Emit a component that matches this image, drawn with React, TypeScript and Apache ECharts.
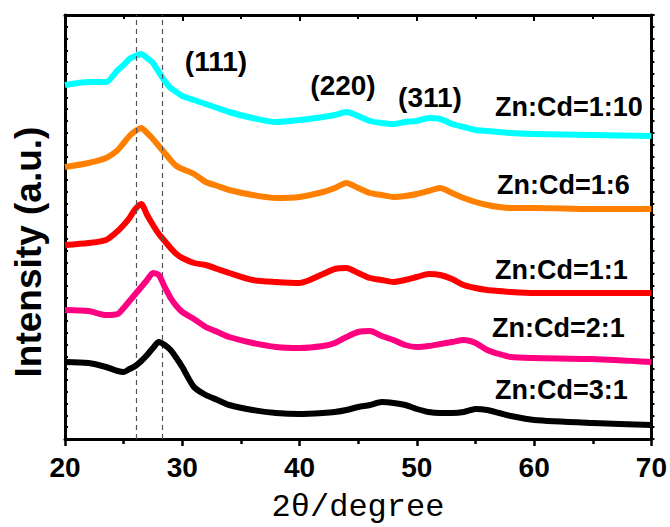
import React, { useEffect, useRef } from "react";
import * as echarts from "echarts";

// 2θ positions (degree) at which the traces were read
const angles = [20, 22, 23.5, 24.5, 25, 25.5, 26, 26.5, 27, 27.5, 28, 28.5, 29, 29.5, 30, 31, 32, 33, 34, 36, 38, 40, 42, 43, 44, 45, 46, 47, 48, 49, 50, 51, 52, 53, 54, 55, 56, 57, 58, 60, 65, 70];

// Intensities (a.u., offset-stacked as in the figure)
const zn1cd10 = [354, 357, 357, 369, 374, 380, 383, 385, 381, 376, 367, 358, 351, 347, 343, 339, 335, 331, 327, 321, 317, 319, 322, 324, 327, 323, 318, 316, 315, 317, 318, 321, 320, 315, 312, 309, 308, 307, 306, 305, 304, 303];
const zn1cd6 = [272, 276, 281, 289, 296, 303, 308, 311, 306, 300, 293, 286, 279, 273, 270, 265, 257, 253, 249, 244, 241, 242, 247, 251, 256, 251, 246, 244, 242, 243, 245, 248, 251, 246, 241, 237, 234, 232, 231, 231, 230, 230];
const zn1cd1 = [194, 196, 199, 208, 214, 221, 230, 235, 224, 214, 205, 198, 191, 185, 181, 176, 174, 170, 166, 159, 157, 156, 165, 170, 171, 166, 161, 159, 157, 159, 162, 165, 164, 160, 154, 151, 149, 148, 147, 146, 146, 146];
const zn2cd1 = [129, 128, 124, 125, 131, 138, 145, 152, 159, 166, 164, 152, 141, 133, 127, 120, 112, 107, 102, 96, 92, 91, 93, 96, 102, 107, 108, 103, 99, 94, 92, 93, 95, 97, 99, 96, 89, 85, 82, 81, 80, 77];
const zn3cd1 = [77, 76, 72, 68, 67, 70, 73, 78, 84, 91, 97, 94, 89, 81, 72, 52, 44, 39, 34, 29, 26, 25, 26, 27, 29, 32, 34, 37, 36, 34, 30, 27, 26, 26, 27, 30, 29, 26, 23, 19, 16, 14];

const sampleNames = ["Zn:Cd=1:10", "Zn:Cd=1:6", "Zn:Cd=1:1", "Zn:Cd=2:1", "Zn:Cd=3:1"];
const sampleColors = ["#00FFFF", "#FF8000", "#FF0000", "#FF0080", "#000000"];
const peakLabels = ["(111)", "(220)", "(311)"];
const refLines = [26.05, 28.25];
const xTicks = [20, 30, 40, 50, 60, 70];

export default function App() {
  const ref = useRef<HTMLDivElement>(null);
  useEffect(() => {
    if (!ref.current) return;
    const chart = echarts.init(ref.current, null, { renderer: "svg" });
    const all = [zn1cd10, zn1cd6, zn1cd1, zn2cd1, zn3cd1];
    const boldFont = "Liberation Sans";
    const series: any[] = all.map((vals, i) => ({
      name: sampleNames[i],
      type: "line",
      data: angles.map((a, j) => [a, vals[j]]),
      showSymbol: false,
      symbol: "none",
      smooth: 0.25,
      lineStyle: { color: sampleColors[i], width: 6, join: "round" },
      z: 2 + i,
    }));
    series.push({
      type: "line",
      data: [],
      markLine: {
        silent: true,
        symbol: "none",
        label: { show: false },
        lineStyle: { color: "#555", type: [5, 4], width: 1.2 },
        data: refLines.map((v) => ({ xAxis: v })),
      },
    });
    const labelPos = [
      [495, 107],
      [497, 185],
      [495, 270],
      [492, 328],
      [495, 390],
    ];
    const peakPos = [
      [216, 61],
      [343, 85],
      [430, 97],
    ];
    const graphics: any[] = [];
    sampleNames.forEach((n, i) => {
      graphics.push({
        type: "text",
        x: labelPos[i][0],
        y: labelPos[i][1],
        style: {
          text: n,
          font: `bold 27px "${boldFont}"`,
          fill: "#000",
          align: "left",
          verticalAlign: "middle",
        },
      });
    });
    peakLabels.forEach((p, i) => {
      graphics.push({
        type: "text",
        x: peakPos[i][0],
        y: peakPos[i][1],
        style: {
          text: p,
          font: `bold 28px "${boldFont}"`,
          fill: "#000",
          align: "center",
          verticalAlign: "middle",
        },
      });
    });
    graphics.push({
      type: "text",
      x: 28,
      y: 252,
      rotation: Math.PI / 2,
      style: {
        text: "Intensity (a.u.)",
        font: `bold 37px "${boldFont}"`,
        fill: "#000",
        align: "center",
        verticalAlign: "middle",
      },
    });
    graphics.push({
      type: "text",
      x: 358,
      y: 507,
      style: {
        text: "2θ/degree",
        font: `32px "Liberation Mono"`,
        fill: "#000",
        align: "center",
        verticalAlign: "middle",
      },
    });
    const yInt = 424 / 36;
    chart.setOption({
      animation: false,
      backgroundColor: "#fff",
      grid: { left: 65, right: 18, top: 15, bottom: 88, containLabel: false },
      xAxis: [
        {
          type: "value",
          min: 20,
          max: 70,
          interval: 10,
          position: "bottom",
          axisLine: { show: true, onZero: false, lineStyle: { color: "#000", width: 3 } },
          axisTick: { show: true, inside: false, length: 7, lineStyle: { color: "#000", width: 2.5 } },
          minorTick: { show: true, splitNumber: 2, length: 5, lineStyle: { color: "#000", width: 2.5 } },
          splitLine: { show: false },
          axisLabel: {
            show: true,
            margin: 14,
            color: "#000",
            fontFamily: boldFont,
            fontWeight: "bold",
            fontSize: 28,
            formatter: (v: number) => (xTicks.includes(v) ? String(v) : ""),
          },
        },
        {
          type: "value",
          min: 20,
          max: 70,
          interval: 10,
          position: "top",
          axisLine: { show: true, onZero: false, lineStyle: { color: "#000", width: 3 } },
          axisTick: { show: true, inside: true, length: 6, lineStyle: { color: "#000", width: 2 } },
          minorTick: { show: true, splitNumber: 2, length: 4, lineStyle: { color: "#000", width: 2 } },
          splitLine: { show: false },
          axisLabel: { show: false },
        },
      ],
      yAxis: [
        {
          type: "value",
          min: 0,
          max: 424,
          interval: yInt,
          position: "left",
          axisLine: { show: true, onZero: false, lineStyle: { color: "#000", width: 3 } },
          axisTick: { show: true, inside: true, length: 3, lineStyle: { color: "#000", width: 2 } },
          splitLine: { show: false },
          axisLabel: { show: false },
        },
        {
          type: "value",
          min: 0,
          max: 424,
          interval: yInt,
          position: "right",
          axisLine: { show: true, onZero: false, lineStyle: { color: "#000", width: 3 } },
          axisTick: { show: true, inside: false, length: 3, lineStyle: { color: "#000", width: 2 } },
          splitLine: { show: false },
          axisLabel: { show: false },
        },
      ],
      series,
      graphic: graphics,
    });
    return () => chart.dispose();
  }, []);
  return (
    <div
      ref={ref}
      style={{ position: "fixed", left: 0, top: 0, width: 670, height: 527, background: "#fff" }}
    />
  );
}
